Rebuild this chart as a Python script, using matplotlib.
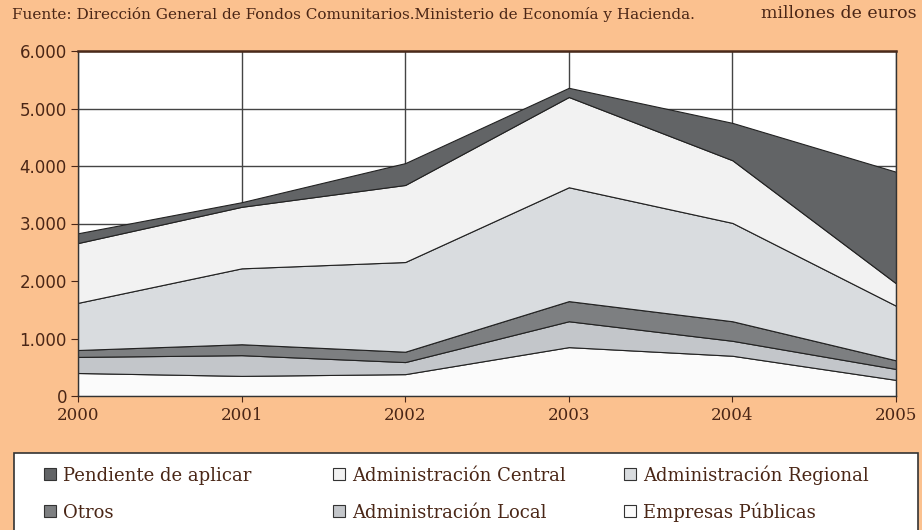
import numpy as np
import matplotlib
matplotlib.use('Agg')
import matplotlib.pyplot as plt
from matplotlib.patches import Rectangle
from matplotlib.ticker import FuncFormatter

# Years and stacked series (millones de euros), bottom to top
years = [2000, 2001, 2002, 2003, 2004, 2005]
empresas = [400, 350, 380, 850, 700, 280]
local = [280, 360, 210, 450, 260, 190]
otros = [120, 190, 180, 350, 340, 150]
regional = [820, 1320, 1560, 1980, 1710, 950]
central = [1040, 1070, 1340, 1570, 1090, 390]
pendiente = [170, 80, 380, 160, 650, 1940]

series = [empresas, local, otros, regional, central, pendiente]
names = ['Empresas Públicas', 'Administración Local', 'Otros',
         'Administración Regional', 'Administración Central', 'Pendiente de aplicar']
colors = ['#fbfbfb', '#c3c6ca', '#7d7f81', '#d9dcdf', '#f2f2f2', '#626466']

bg = '#fbc18f'
txt = '#4a2616'
W, H = 922, 530

fig = plt.figure(figsize=(9.22, 5.30), dpi=100, facecolor=bg)
ax = fig.add_axes([78 / W, 1 - 396 / H, 818 / W, 345 / H])
ax.set_facecolor('white')

ax.stackplot(years, *series, colors=colors, edgecolor='#222222', linewidth=0.8, zorder=2)

ax.set_xlim(2000, 2005)
ax.set_ylim(0, 6000)
ax.set_xticks(years)
ax.set_yticks(np.arange(0, 6001, 1000))
ax.yaxis.set_major_formatter(FuncFormatter(lambda v, p: f'{int(v):,}'.replace(',', '.')))
ax.grid(True, color='#444444', linewidth=1, zorder=0)
ax.set_axisbelow(True)

for s in ax.spines.values():
    s.set_color('#333333')
    s.set_linewidth(1)
ax.spines['top'].set_color('#4a2a1a')
ax.spines['top'].set_linewidth(1.8)

ax.tick_params(axis='y', direction='out', length=5, color=txt, labelcolor=txt,
               labelsize=12, pad=3)
ax.tick_params(axis='x', direction='inout', length=8, color=txt, labelcolor=txt,
               labelsize=12, pad=4)
for lab in ax.get_xticklabels():
    lab.set_family('DejaVu Serif')

fig.text(12 / W, 1 - 15 / H,
         'Fuente: Dirección General de Fondos Comunitarios.Ministerio de Economía y Hacienda.',
         family='DejaVu Serif', fontsize=11, color=txt, va='center', ha='left')
fig.text(917 / W, 1 - 14 / H, 'millones de euros',
         family='DejaVu Serif', fontsize=12.5, color=txt, va='center', ha='right')

# white legend box
fig.patches.append(Rectangle((14 / W, -0.02), 904 / W, (78 + 10) / H,
                             transform=fig.transFigure, facecolor='white',
                             edgecolor='#333333', linewidth=1.2, zorder=1))

# legend entries: 2 rows x 3 columns
layout = [[5, 4, 3], [2, 1, 0]]
col_x = [44, 333, 624]
row_y = [475, 512]
for row, y in zip(layout, row_y):
    for i, x in zip(row, col_x):
        fig.patches.append(Rectangle((x / W, 1 - (y + 5) / H), 12 / W, 12 / H,
                                     transform=fig.transFigure, facecolor=colors[i],
                                     edgecolor='#333333', linewidth=0.8, zorder=2))
        fig.text((x + 19) / W, 1 - (y + 6) / H, names[i], family='DejaVu Serif',
                 fontsize=13, color=txt, ha='left', va='baseline', zorder=3)

fig.savefig('out.png', dpi=100, facecolor=bg)
